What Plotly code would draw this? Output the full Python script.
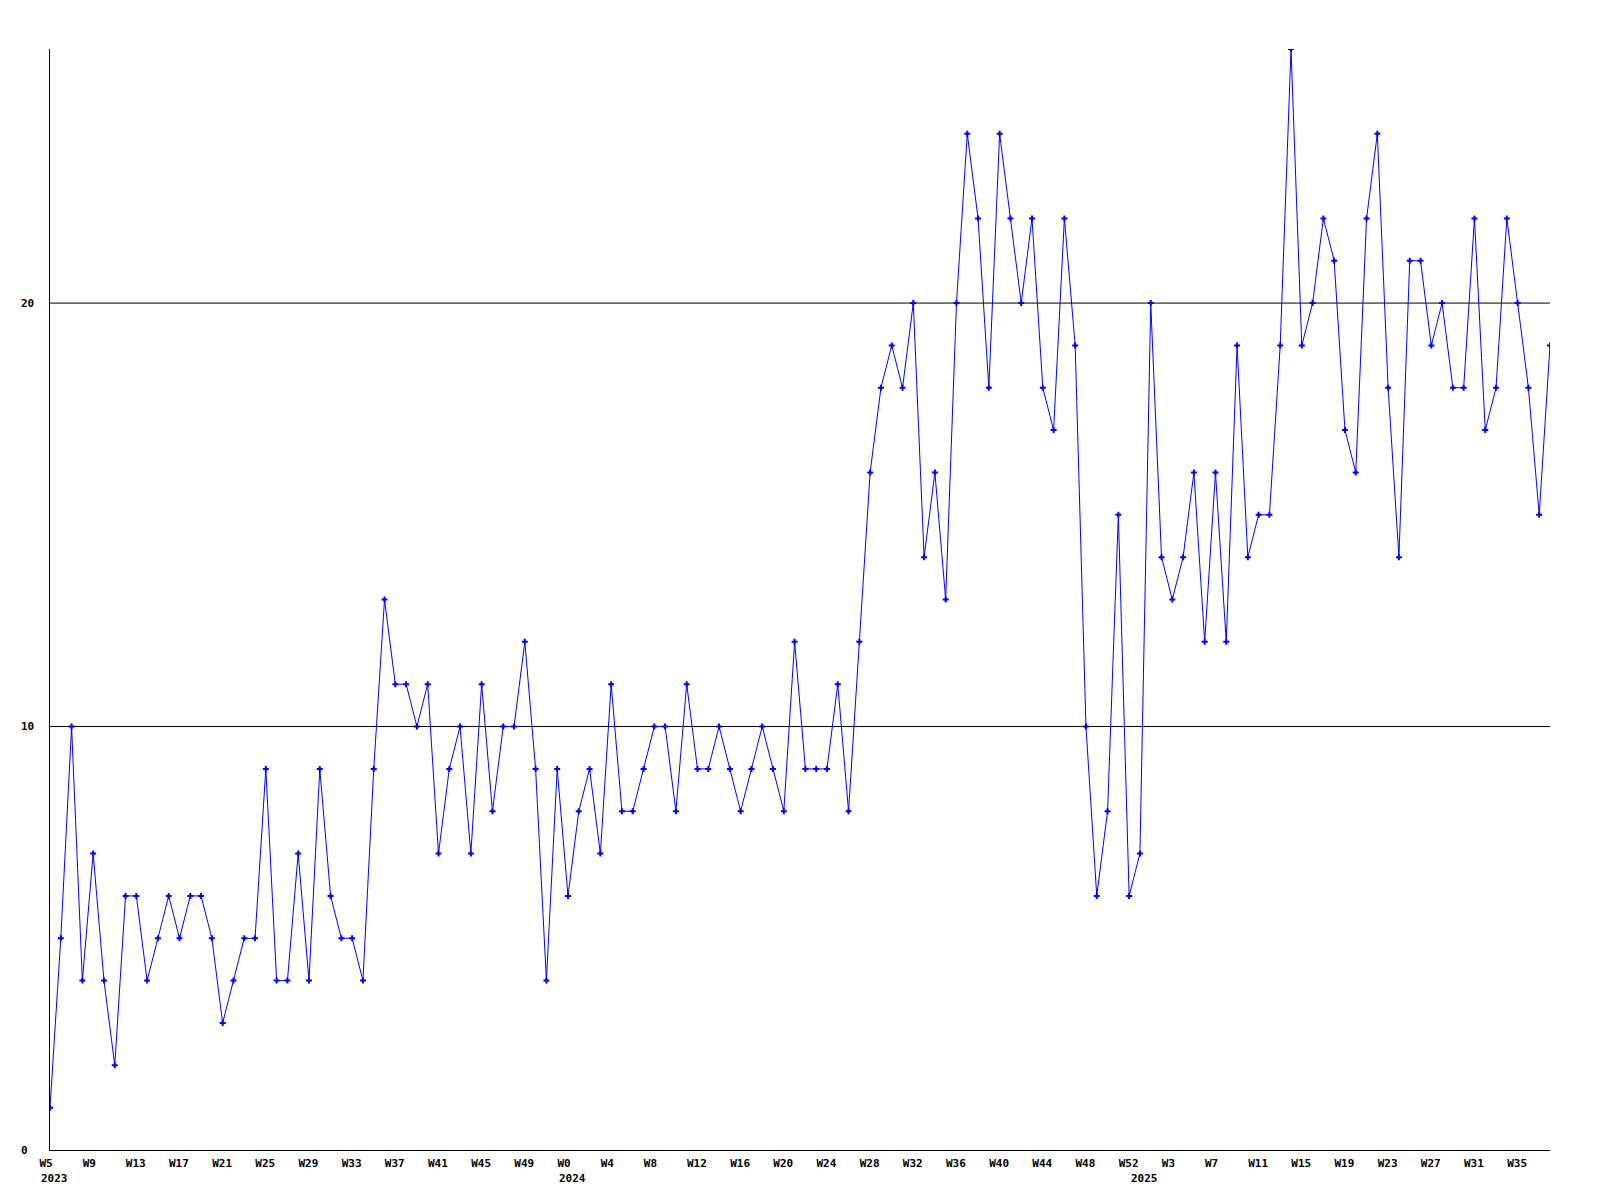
import plotly.graph_objects as go

# ---- data ----
years = [2023, 2024, 2025]
first_week = [5, 0, 0]
last_week = [52, 52, 38]

values = [
    # 2023 W5..W52
    1, 5, 10, 4, 7, 4, 2, 6, 6, 4, 5, 6, 5, 6, 6, 5, 3, 4, 5, 5,
    9, 4, 4, 7, 4, 9, 6, 5, 5, 4, 9, 13, 11, 11, 10, 11, 7, 9, 10, 7,
    11, 8, 10, 10, 12, 9, 4, 9,
    # 2024 W0..W52
    6, 8, 9, 7, 11, 8, 8, 9, 10, 10, 8, 11, 9, 9, 10, 9, 8, 9, 10, 9,
    8, 12, 9, 9, 9, 11, 8, 12, 16, 18, 19, 18, 20, 14, 16, 13, 20, 24, 22, 18,
    24, 22, 20, 22, 18, 17, 22, 19, 10, 6, 8, 15, 6,
    # 2025 W0..W38
    7, 20, 14, 13, 14, 16, 12, 16, 12, 19, 14, 15, 15, 19, 26, 19, 20, 22, 21, 17,
    16, 22, 24, 18, 14, 21, 21, 19, 20, 18, 18, 22, 17, 18, 22, 20, 18, 15, 19,
]

y_ticks = [0, 10, 20]
y_max = 26

# ---- build categories ----
cats, week_nums, year_first = [], [], []
for yr, fw, lw in zip(years, first_week, last_week):
    for w in range(fw, lw + 1):
        c = f"{yr}-W{w:02d}"
        if w == fw:
            year_first.append((c, str(yr)))
        cats.append(c)
        week_nums.append(w)

tickvals = cats[::4]
ticktext = [f"W{w}" for w in week_nums[::4]]

FONT = "DejaVu Sans Mono"
W, H = 1592, 1192
ML, MR, MT, MB = 42, 50, 41, 50
plot_w = W - ML - MR

fig = go.Figure()
fig.add_trace(go.Scatter(
    x=cats, y=values, mode="lines+markers",
    line=dict(color="#0000ff", width=1),
    marker=dict(symbol="cross", size=5, color="#0000ff", line=dict(width=0)),
    hoverinfo="x+y", showlegend=False,
))

for v in y_ticks[1:]:
    fig.add_shape(type="line", xref="paper", x0=0, x1=1, yref="y", y0=v, y1=v,
                  line=dict(color="black", width=1), layer="below")

for v in y_ticks:
    fig.add_annotation(xref="paper", x=-31 / plot_w, yref="y", y=v, text=f"<b>{v}</b>",
                       showarrow=False, xanchor="left", yanchor="middle",
                       font=dict(family=FONT, size=11, color="black"))

for c, yr in year_first:
    fig.add_annotation(xref="x", x=c, yref="paper", y=0, text=f"<b>{yr}</b>",
                       showarrow=False, xanchor="left", yanchor="top",
                       xshift=-11, yshift=-20,
                       font=dict(family=FONT, size=11, color="black"))

fig.update_layout(
    width=W, height=H,
    margin=dict(l=ML, r=MR, t=MT, b=MB),
    paper_bgcolor="white", plot_bgcolor="white",
    font=dict(family=FONT, size=11, color="black"),
    xaxis=dict(
        type="category", categoryorder="array", categoryarray=cats,
        range=[0, len(cats) - 1],
        tickmode="array", tickvals=tickvals, ticktext=[f"<b>{t}</b>" for t in ticktext],
        ticks="", showgrid=False, zeroline=False,
        showline=True, linecolor="black", linewidth=1,
        ticklabelposition="outside right", ticklabelshift=-11, ticklabelstandoff=3,
        tickfont=dict(family=FONT, size=11, color="black"),
    ),
    yaxis=dict(
        range=[0, y_max], showgrid=False, zeroline=False,
        showticklabels=False, ticks="",
        showline=True, linecolor="black", linewidth=1,
    ),
)

fig.write_html("out.html")
